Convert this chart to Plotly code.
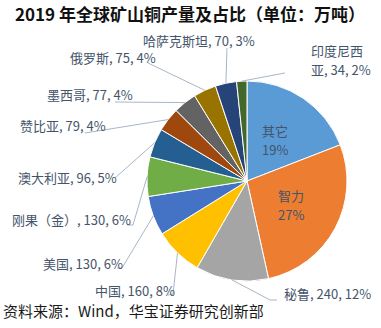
import math
import plotly.graph_objects as go

# 2019 mined copper output by country (10k tonnes)
countries = ["其它", "智力", "秘鲁", "中国", "美国", "刚果（金）", "澳大利亚",
             "赞比亚", "墨西哥", "俄罗斯", "哈萨克斯坦", "印度尼西亚"]
output = [390, 560, 240, 160, 130, 130, 96, 79, 77, 75, 70, 34]
colors = ["#5B9BD5", "#ED7D31", "#A5A5A5", "#FFC000", "#4472C4", "#70AD47",
          "#255E91", "#9E480E", "#636363", "#997300", "#264478", "#43682B"]

title_text = "2019 年全球矿山铜产量及占比（单位：万吨）"
source_text = "资料来源：Wind，华宝证券研究创新部"

W, H = 381, 328
CX, CY, R = 247, 181, 100          # pie centre / radius in pixels
LABEL_COLOR = "#44546A"
LINE_COLOR = "#A9B6C8"
FONT = "Noto Sans CJK SC, Noto Sans, sans-serif"


def px(x):
    return x / W


def py(y):
    return 1 - y / H


total = sum(output)
pcts = [round(v / total * 100) for v in output]

# mid-angle of each slice, clockwise from 12 o'clock
mid_angles = []
cum = 0
for v in output:
    mid_angles.append(2 * math.pi * (cum + v / 2) / total)
    cum += v


def slice_point(i, frac):
    a = mid_angles[i]
    return CX + frac * R * math.sin(a), CY - frac * R * math.cos(a)


fig = go.Figure(go.Pie(
    labels=countries,
    values=output,
    sort=False,
    direction="clockwise",
    rotation=0,
    textinfo="none",
    hoverinfo="label+value+percent",
    marker=dict(colors=colors, line=dict(color="white", width=1)),
    domain=dict(x=[px(CX - R), px(CX + R)], y=[py(CY + R), py(CY - R)]),
    showlegend=False,
))

annotations = []
shapes = []


def add_text(x, y, text, size=13, color=LABEL_COLOR, xanchor="center"):
    annotations.append(dict(
        x=px(x), y=py(y), xref="paper", yref="paper", text=text,
        showarrow=False, font=dict(family=FONT, size=size, color=color),
        xanchor=xanchor, yanchor="middle", align="left", borderpad=0))


# labels drawn inside the two largest slices: name above, share below
for i in (0, 1):
    x, y = slice_point(i, 0.5)
    add_text(x, y - 9.5, countries[i])
    add_text(x, y + 10, f"{pcts[i]}%")

# outside labels: text position, anchor, and leader-line route
outside = {
    "秘鲁": dict(pos=(327, 293), xa="center", via=[(270, 300), (277, 300)]),
    "中国": dict(pos=(135, 290), xa="center", via=[(173, 294), (168, 295)]),
    "美国": dict(pos=(83, 263), xa="center", via=[(122, 268), (117, 268)]),
    "刚果（金）": dict(pos=(71, 219), xa="center", via=[(133, 225), (127, 225)]),
    "澳大利亚": dict(pos=(67, 177), xa="center", via=[(115, 178)]),
    "赞比亚": dict(pos=(63, 125), xa="center", via=[(85, 133)]),
    "墨西哥": dict(pos=(90, 95), xa="center", via=[(115, 102)]),
    "俄罗斯": dict(pos=(113, 58), xa="center", via=[(148, 63)]),
    "哈萨克斯坦": dict(pos=(199, 40), xa="center", via=[(227, 48)]),
    "印度尼西亚": dict(pos=(310, 60), xa="left", via=[(285, 73)]),
}

for i, name in enumerate(countries):
    if name not in outside:
        continue
    cfg = outside[name]
    lx, ly = cfg["pos"]
    if name == "印度尼西亚":
        # long name wraps onto a second line
        add_text(lx, ly - 9.5, name[:4], xanchor=cfg["xa"])
        add_text(lx, ly + 10, f"{name[4:]}, {output[i]}, {pcts[i]}%",
                 xanchor=cfg["xa"])
    else:
        add_text(lx, ly, f"{name}, {output[i]}, {pcts[i]}%", xanchor=cfg["xa"])
    pts = [slice_point(i, 1.0)] + cfg["via"]
    path = "M " + " L ".join(f"{px(x):.5f},{py(y):.5f}" for x, y in pts)
    shapes.append(dict(type="path", path=path, xref="paper", yref="paper",
                       line=dict(color=LINE_COLOR, width=1)))

add_text(190, 13, f"<b>{title_text}</b>", size=17, color="#111111")
add_text(2, 310, source_text, size=15, color="#1a1a1a", xanchor="left")

fig.update_layout(
    width=W, height=H,
    margin=dict(l=0, r=0, t=0, b=0),
    paper_bgcolor="white", plot_bgcolor="white",
    annotations=annotations, shapes=shapes,
)

fig.write_html("out.html")
